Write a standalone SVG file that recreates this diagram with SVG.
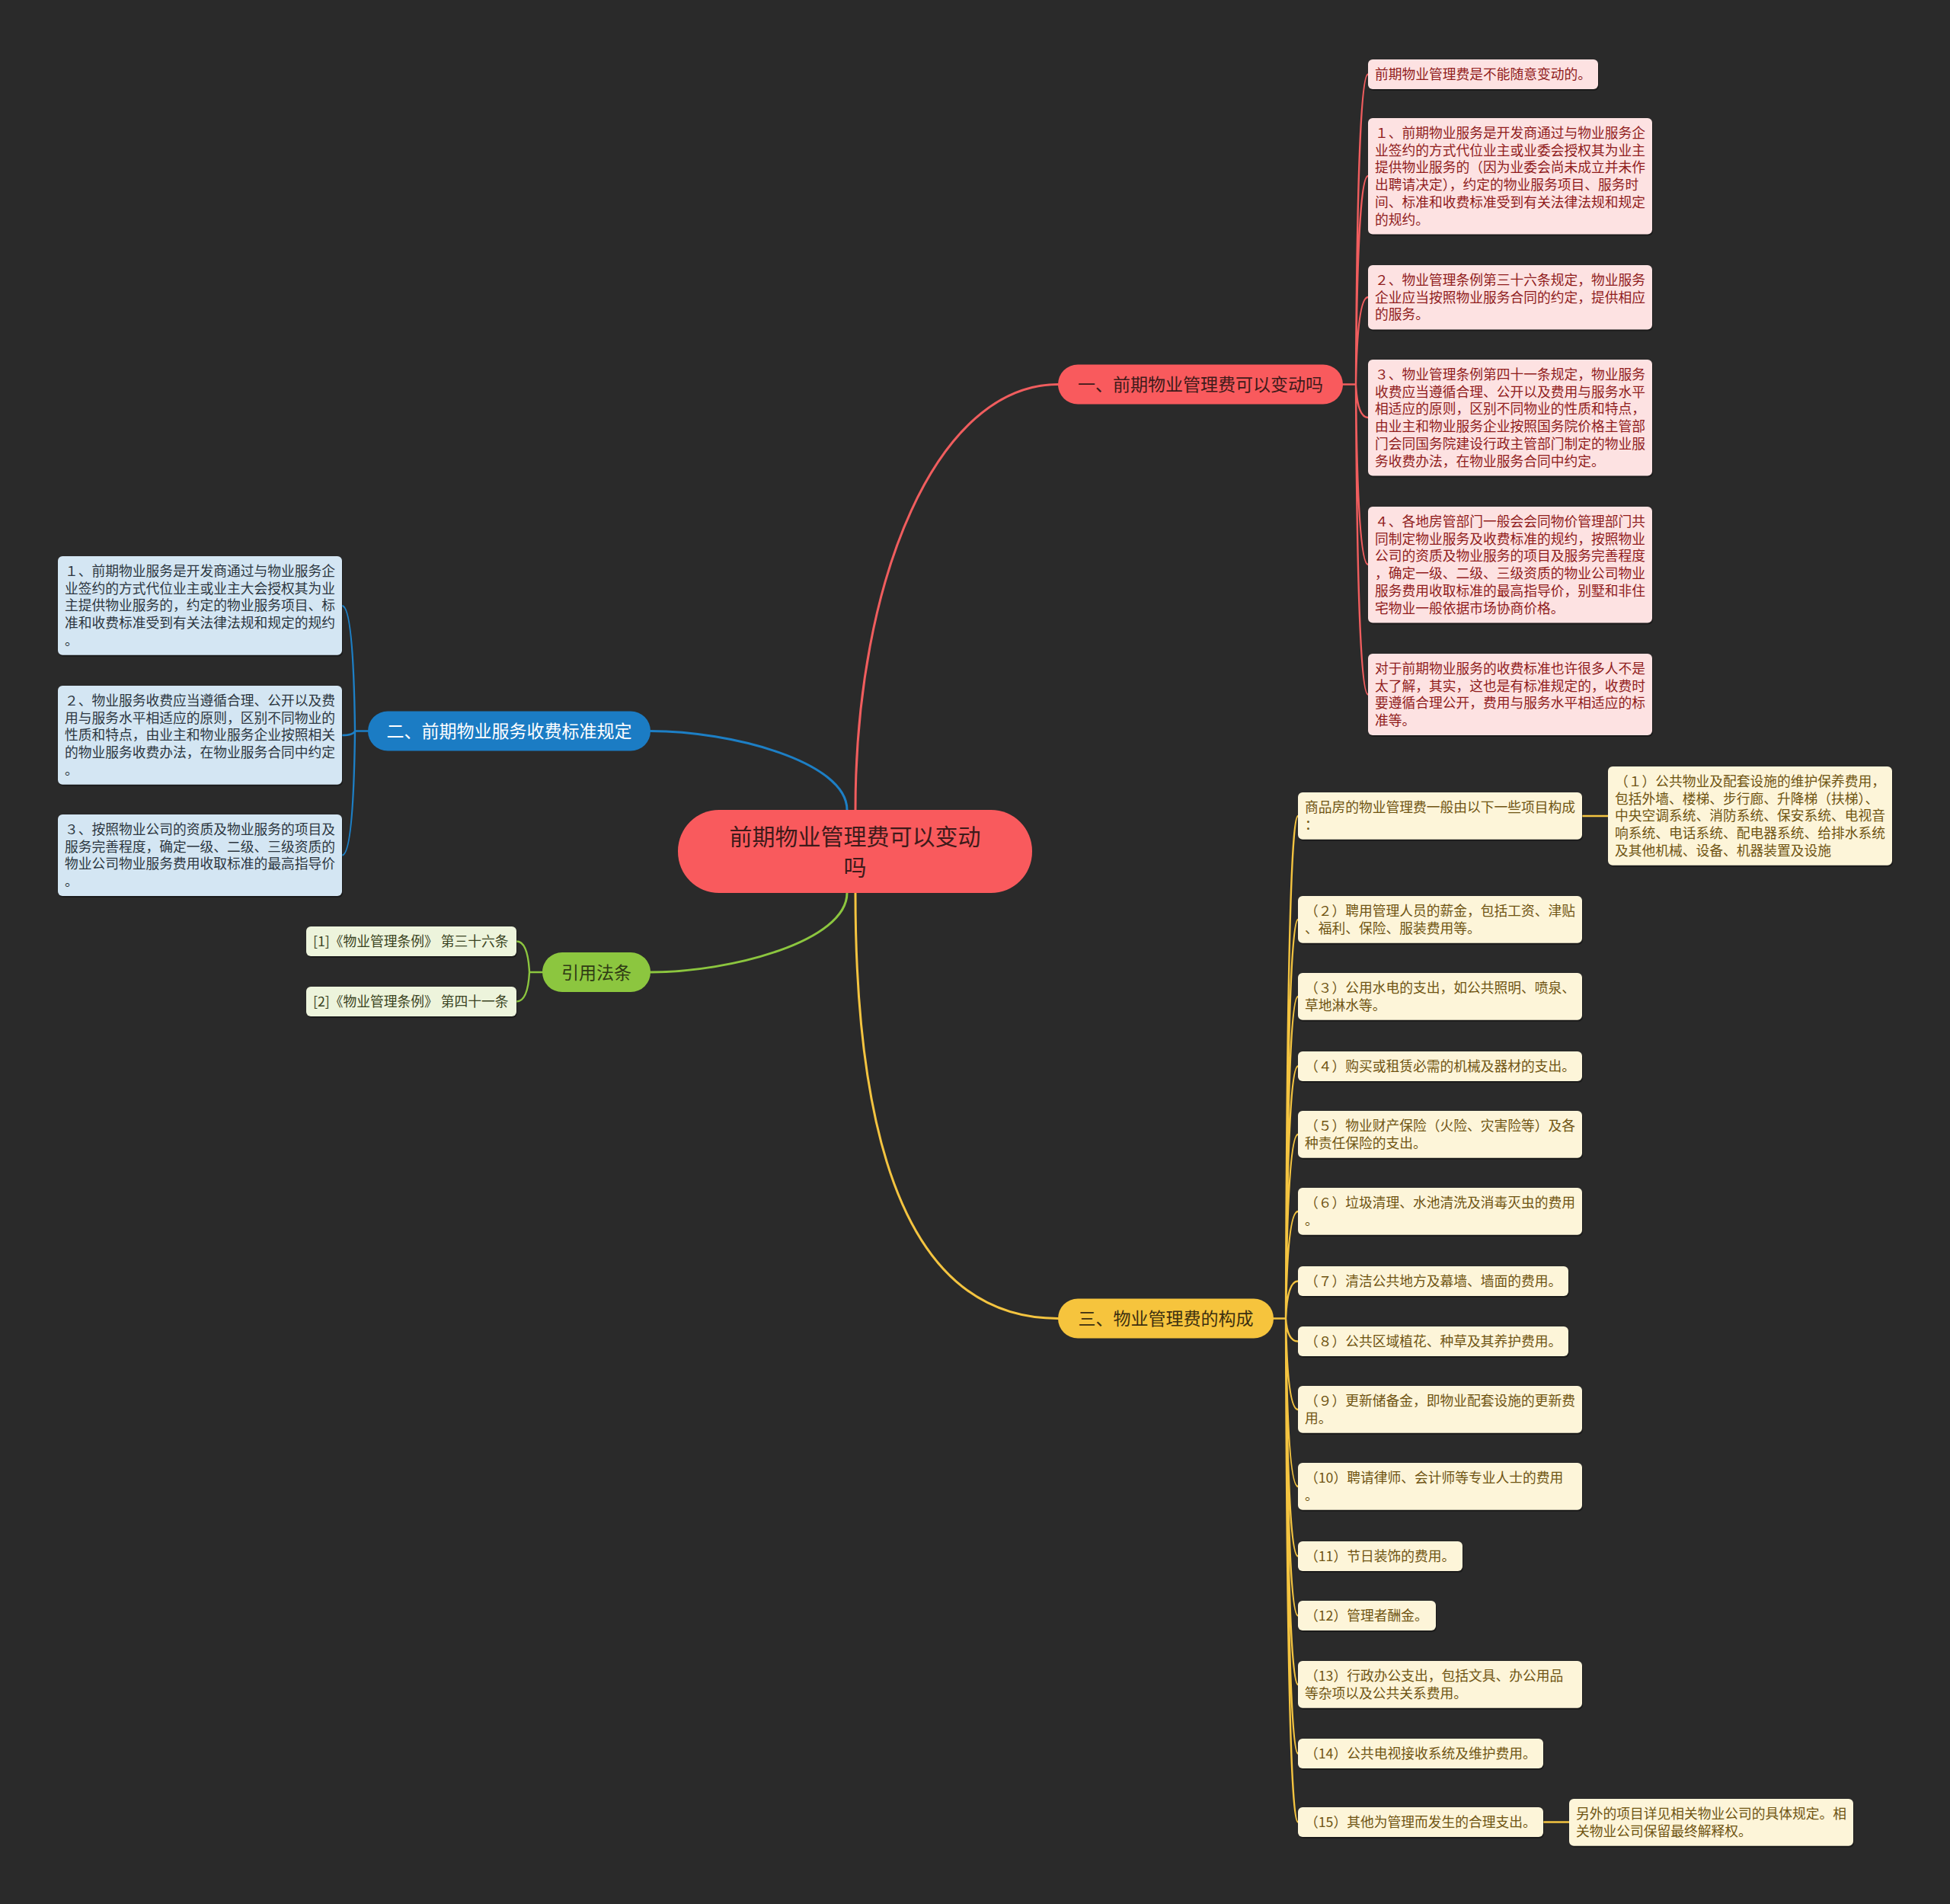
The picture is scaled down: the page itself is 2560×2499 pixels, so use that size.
<svg xmlns="http://www.w3.org/2000/svg" width="2560" height="2499" viewBox="0 0 2560 2499">
<style>
text{font-family:"Noto Sans CJK SC","Noto Sans CJK JP",sans-serif;}
.c{font-size:17.75px;}
.sh{fill:#000;opacity:0.35;}
.pk rect.b{fill:#fde2e2;} .pk text{fill:#901c1c;}
.bl rect.b{fill:#d4e6f3;} .bl text{fill:#2c3640;}
.gn rect.b{fill:#edf4dc;} .gn text{fill:#3a4322;}
.yl rect.b{fill:#fdf5d9;} .yl text{fill:#6f5412;}
.tp{font-size:23px;}
.ln{fill:none;stroke-linecap:round;}
.r{stroke:#f05d5e;} .u{stroke:#1d7fc5;} .g{stroke:#8cc63f;} .y{stroke:#f4c440;}
.m{stroke-width:3;} .s{stroke-width:2.4;}
</style>
<rect width="2560" height="2499" fill="#2a2a2a"/>

<g id="connectors">
  <path class="ln r m" d="M1123,1063 C1123,760 1230,504.5 1389,504.5"/>
  <path class="ln u m" d="M854,959.5 C960,959.5 1112,1000 1112,1063"/>
  <path class="ln g m" d="M854,1276 C960,1276 1112,1235 1112,1172"/>
  <path class="ln y m" d="M1123,1172 C1123,1520 1200,1730.5 1389,1730.5"/>
  <path class="ln r s" d="M1763,504.5 H1780 M1780,504.5 Q1782,97.5 1796,97.5 M1780,504.5 Q1782,231 1796,231 M1780,504.5 Q1782,390 1796,390 M1780,504.5 Q1782,548 1796,548 M1780,504.5 Q1782,741 1796,741 M1780,504.5 Q1782,911.5 1796,911.5"/>
  <path class="ln u s" d="M483,959.5 H466 M466,959.5 Q464,795 449,795 M466,959.5 Q464,965 449,965 M466,959.5 Q464,1122.5 449,1122.5"/>
  <path class="ln g s" d="M712,1276 H695 M695,1276 Q693,1235.5 678,1235.5 M695,1276 Q693,1314.5 678,1314.5"/>
  <path class="ln y s" d="M1672,1730.5 H1688 M1688,1730.5 Q1690,1071 1704,1071 M1688,1730.5 Q1690,1207 1704,1207 M1688,1730.5 Q1690,1308 1704,1308 M1688,1730.5 Q1690,1399.5 1704,1399.5 M1688,1730.5 Q1690,1489 1704,1489 M1688,1730.5 Q1690,1590 1704,1590 M1688,1730.5 Q1690,1681.5 1704,1681.5 M1688,1730.5 Q1690,1760.5 1704,1760.5 M1688,1730.5 Q1690,1850 1704,1850 M1688,1730.5 Q1690,1951 1704,1951 M1688,1730.5 Q1690,2042.5 1704,2042.5 M1688,1730.5 Q1690,2120.5 1704,2120.5 M1688,1730.5 Q1690,2211 1704,2211 M1688,1730.5 Q1690,2301.5 1704,2301.5 M1688,1730.5 Q1690,2391.5 1704,2391.5"/>
  <path class="ln y s" d="M2077,1071 H2111 M2026,2391.5 H2060"/>
</g>

<g id="root">
  <rect x="890" y="1063" width="465" height="109" rx="54" fill="#f95a5d"/>
  <text x="1122.5" y="1109" font-size="30" text-anchor="middle" fill="#3e1a1a">前期物业管理费可以变动<tspan x="1122.5" dy="40">吗</tspan></text>
</g>

<g id="topic1">
  <rect x="1389" y="478.5" width="374" height="52" rx="26" fill="#f95a5d"/>
  <text class="tp" x="1576" y="513.2" text-anchor="middle" fill="#3e1a1a">一、前期物业管理费可以变动吗</text>
</g>
<g id="topic2">
  <rect x="483" y="933.5" width="371" height="52" rx="26" fill="#1b7cc4"/>
  <text class="tp" x="668.5" y="968.2" text-anchor="middle" fill="#ffffff">二、前期物业服务收费标准规定</text>
</g>
<g id="topic3">
  <rect x="712" y="1250" width="142" height="52" rx="26" fill="#8cc63f"/>
  <text class="tp" x="783" y="1284.7" text-anchor="middle" fill="#2f3a14">引用法条</text>
</g>
<g id="topic4">
  <rect x="1389" y="1704.5" width="283" height="52" rx="26" fill="#f6c43d"/>
  <text class="tp" x="1530.5" y="1739.2" text-anchor="middle" fill="#3d3010">三、物业管理费的构成</text>
</g>

<!-- pink children -->
<g id="p1" class="pk"><rect class="sh" x="1797" y="80" width="302" height="39" rx="6"/><rect class="b" x="1796" y="78" width="302" height="39" rx="6"/>
<text class="c" x="1805" y="104">前期物业管理费是不能随意变动的。</text></g>
<g id="p2" class="pk"><rect class="sh" x="1797" y="157" width="373" height="152.5" rx="6"/><rect class="b" x="1796" y="155" width="373" height="152.5" rx="6"/>
<text class="c" x="1805" y="181">１、前期物业服务是开发商通过与物业服务企<tspan x="1805" dy="22.7">业签约的方式代位业主或业委会授权其为业主</tspan><tspan x="1805" dy="22.7">提供物业服务的（因为业委会尚未成立并未作</tspan><tspan x="1805" dy="22.7">出聘请决定），约定的物业服务项目、服务时</tspan><tspan x="1805" dy="22.7">间、标准和收费标准受到有关法律法规和规定</tspan><tspan x="1805" dy="22.7">的规约。</tspan></text></g>
<g id="p3" class="pk"><rect class="sh" x="1797" y="350" width="373" height="84.4" rx="6"/><rect class="b" x="1796" y="348" width="373" height="84.4" rx="6"/>
<text class="c" x="1805" y="374">２、物业管理条例第三十六条规定，物业服务<tspan x="1805" dy="22.7">企业应当按照物业服务合同的约定，提供相应</tspan><tspan x="1805" dy="22.7">的服务。</tspan></text></g>
<g id="p4" class="pk"><rect class="sh" x="1797" y="474" width="373" height="152.5" rx="6"/><rect class="b" x="1796" y="472" width="373" height="152.5" rx="6"/>
<text class="c" x="1805" y="498">３、物业管理条例第四十一条规定，物业服务<tspan x="1805" dy="22.7">收费应当遵循合理、公开以及费用与服务水平</tspan><tspan x="1805" dy="22.7">相适应的原则，区别不同物业的性质和特点，</tspan><tspan x="1805" dy="22.7">由业主和物业服务企业按照国务院价格主管部</tspan><tspan x="1805" dy="22.7">门会同国务院建设行政主管部门制定的物业服</tspan><tspan x="1805" dy="22.7">务收费办法，在物业服务合同中约定。</tspan></text></g>
<g id="p5" class="pk"><rect class="sh" x="1797" y="667" width="373" height="152.5" rx="6"/><rect class="b" x="1796" y="665" width="373" height="152.5" rx="6"/>
<text class="c" x="1805" y="691">４、各地房管部门一般会会同物价管理部门共<tspan x="1805" dy="22.7">同制定物业服务及收费标准的规约，按照物业</tspan><tspan x="1805" dy="22.7">公司的资质及物业服务的项目及服务完善程度</tspan><tspan x="1805" dy="22.7">，确定一级、二级、三级资质的物业公司物业</tspan><tspan x="1805" dy="22.7">服务费用收取标准的最高指导价，别墅和非住</tspan><tspan x="1805" dy="22.7">宅物业一般依据市场协商价格。</tspan></text></g>
<g id="p6" class="pk"><rect class="sh" x="1797" y="860" width="373" height="107.1" rx="6"/><rect class="b" x="1796" y="858" width="373" height="107.1" rx="6"/>
<text class="c" x="1805" y="884">对于前期物业服务的收费标准也许很多人不是<tspan x="1805" dy="22.7">太了解，其实，这也是有标准规定的，收费时</tspan><tspan x="1805" dy="22.7">要遵循合理公开，费用与服务水平相适应的标</tspan><tspan x="1805" dy="22.7">准等。</tspan></text></g>

<!-- blue children -->
<g id="b1" class="bl"><rect class="sh" x="77" y="732" width="373" height="129.8" rx="6"/><rect class="b" x="76" y="730" width="373" height="129.8" rx="6"/>
<text class="c" x="85" y="756">１、前期物业服务是开发商通过与物业服务企<tspan x="85" dy="22.7">业签约的方式代位业主或业主大会授权其为业</tspan><tspan x="85" dy="22.7">主提供物业服务的，约定的物业服务项目、标</tspan><tspan x="85" dy="22.7">准和收费标准受到有关法律法规和规定的规约</tspan><tspan x="85" dy="22.7">。</tspan></text></g>
<g id="b2" class="bl"><rect class="sh" x="77" y="902" width="373" height="129.8" rx="6"/><rect class="b" x="76" y="900" width="373" height="129.8" rx="6"/>
<text class="c" x="85" y="926">２、物业服务收费应当遵循合理、公开以及费<tspan x="85" dy="22.7">用与服务水平相适应的原则，区别不同物业的</tspan><tspan x="85" dy="22.7">性质和特点，由业主和物业服务企业按照相关</tspan><tspan x="85" dy="22.7">的物业服务收费办法，在物业服务合同中约定</tspan><tspan x="85" dy="22.7">。</tspan></text></g>
<g id="b3" class="bl"><rect class="sh" x="77" y="1071" width="373" height="107.1" rx="6"/><rect class="b" x="76" y="1069" width="373" height="107.1" rx="6"/>
<text class="c" x="85" y="1095">３、按照物业公司的资质及物业服务的项目及<tspan x="85" dy="22.7">服务完善程度，确定一级、二级、三级资质的</tspan><tspan x="85" dy="22.7">物业公司物业服务费用收取标准的最高指导价</tspan><tspan x="85" dy="22.7">。</tspan></text></g>

<!-- green children -->
<g id="g1" class="gn"><rect class="sh" x="403" y="1218" width="276" height="39" rx="6"/><rect class="b" x="402" y="1216" width="276" height="39" rx="6"/>
<text class="c" x="411" y="1242">[1]《物业管理条例》 第三十六条</text></g>
<g id="g2" class="gn"><rect class="sh" x="403" y="1297" width="276" height="39" rx="6"/><rect class="b" x="402" y="1295" width="276" height="39" rx="6"/>
<text class="c" x="411" y="1321">[2]《物业管理条例》 第四十一条</text></g>

<!-- yellow children -->
<g id="y0" class="yl"><rect class="sh" x="1705" y="1042" width="373" height="61.7" rx="6"/><rect class="b" x="1704" y="1040" width="373" height="61.7" rx="6"/>
<text class="c" x="1713" y="1066">商品房的物业管理费一般由以下一些项目构成<tspan x="1713" dy="22.7">：</tspan></text></g>
<g id="y1" class="yl"><rect class="sh" x="2112" y="1008" width="373" height="129.8" rx="6"/><rect class="b" x="2111" y="1006" width="373" height="129.8" rx="6"/>
<text class="c" x="2120" y="1032">（１）公共物业及配套设施的维护保养费用，<tspan x="2120" dy="22.7">包括外墙、楼梯、步行廊、升降梯（扶梯）、</tspan><tspan x="2120" dy="22.7">中央空调系统、消防系统、保安系统、电视音</tspan><tspan x="2120" dy="22.7">响系统、电话系统、配电器系统、给排水系统</tspan><tspan x="2120" dy="22.7">及其他机械、设备、机器装置及设施</tspan></text></g>
<g id="y2" class="yl"><rect class="sh" x="1705" y="1178" width="373" height="61.7" rx="6"/><rect class="b" x="1704" y="1176" width="373" height="61.7" rx="6"/>
<text class="c" x="1713" y="1202">（２）聘用管理人员的薪金，包括工资、津贴<tspan x="1713" dy="22.7">、福利、保险、服装费用等。</tspan></text></g>
<g id="y3" class="yl"><rect class="sh" x="1705" y="1279" width="373" height="61.7" rx="6"/><rect class="b" x="1704" y="1277" width="373" height="61.7" rx="6"/>
<text class="c" x="1713" y="1303">（３）公用水电的支出，如公共照明、喷泉、<tspan x="1713" dy="22.7">草地淋水等。</tspan></text></g>
<g id="y4" class="yl"><rect class="sh" x="1705" y="1382" width="373" height="39" rx="6"/><rect class="b" x="1704" y="1380" width="373" height="39" rx="6"/>
<text class="c" x="1713" y="1406">（４）购买或租赁必需的机械及器材的支出。</text></g>
<g id="y5" class="yl"><rect class="sh" x="1705" y="1460" width="373" height="61.7" rx="6"/><rect class="b" x="1704" y="1458" width="373" height="61.7" rx="6"/>
<text class="c" x="1713" y="1484">（５）物业财产保险（火险、灾害险等）及各<tspan x="1713" dy="22.7">种责任保险的支出。</tspan></text></g>
<g id="y6" class="yl"><rect class="sh" x="1705" y="1561" width="373" height="61.7" rx="6"/><rect class="b" x="1704" y="1559" width="373" height="61.7" rx="6"/>
<text class="c" x="1713" y="1585">（６）垃圾清理、水池清洗及消毒灭虫的费用<tspan x="1713" dy="22.7">。</tspan></text></g>
<g id="y7" class="yl"><rect class="sh" x="1705" y="1664" width="355" height="39" rx="6"/><rect class="b" x="1704" y="1662" width="355" height="39" rx="6"/>
<text class="c" x="1713" y="1688">（７）清洁公共地方及幕墙、墙面的费用。</text></g>
<g id="y8" class="yl"><rect class="sh" x="1705" y="1743" width="355" height="39" rx="6"/><rect class="b" x="1704" y="1741" width="355" height="39" rx="6"/>
<text class="c" x="1713" y="1767">（８）公共区域植花、种草及其养护费用。</text></g>
<g id="y9" class="yl"><rect class="sh" x="1705" y="1821" width="373" height="61.7" rx="6"/><rect class="b" x="1704" y="1819" width="373" height="61.7" rx="6"/>
<text class="c" x="1713" y="1845">（９）更新储备金，即物业配套设施的更新费<tspan x="1713" dy="22.7">用。</tspan></text></g>
<g id="y10" class="yl"><rect class="sh" x="1705" y="1922" width="373" height="61.7" rx="6"/><rect class="b" x="1704" y="1920" width="373" height="61.7" rx="6"/>
<text class="c" x="1713" y="1946">（10）聘请律师、会计师等专业人士的费用<tspan x="1713" dy="22.7">。</tspan></text></g>
<g id="y11" class="yl"><rect class="sh" x="1705" y="2025" width="216" height="39" rx="6"/><rect class="b" x="1704" y="2023" width="216" height="39" rx="6"/>
<text class="c" x="1713" y="2049">（11）节日装饰的费用。</text></g>
<g id="y12" class="yl"><rect class="sh" x="1705" y="2103" width="181" height="39" rx="6"/><rect class="b" x="1704" y="2101" width="181" height="39" rx="6"/>
<text class="c" x="1713" y="2127">（12）管理者酬金。</text></g>
<g id="y13" class="yl"><rect class="sh" x="1705" y="2182" width="373" height="61.7" rx="6"/><rect class="b" x="1704" y="2180" width="373" height="61.7" rx="6"/>
<text class="c" x="1713" y="2206">（13）行政办公支出，包括文具、办公用品<tspan x="1713" dy="22.7">等杂项以及公共关系费用。</tspan></text></g>
<g id="y14" class="yl"><rect class="sh" x="1705" y="2284" width="322" height="39" rx="6"/><rect class="b" x="1704" y="2282" width="322" height="39" rx="6"/>
<text class="c" x="1713" y="2308">（14）公共电视接收系统及维护费用。</text></g>
<g id="y15" class="yl"><rect class="sh" x="1705" y="2374" width="322" height="39" rx="6"/><rect class="b" x="1704" y="2372" width="322" height="39" rx="6"/>
<text class="c" x="1713" y="2398">（15）其他为管理而发生的合理支出。</text></g>
<g id="y16" class="yl"><rect class="sh" x="2061" y="2363" width="373" height="61.7" rx="6"/><rect class="b" x="2060" y="2361" width="373" height="61.7" rx="6"/>
<text class="c" x="2069" y="2387">另外的项目详见相关物业公司的具体规定。相<tspan x="2069" dy="22.7">关物业公司保留最终解释权。</tspan></text></g>
</svg>
